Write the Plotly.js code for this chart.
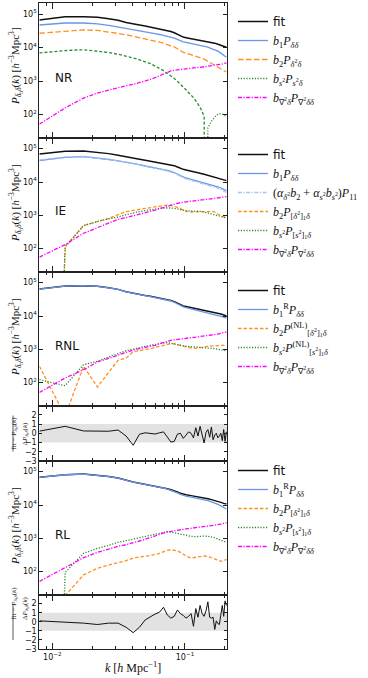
<!DOCTYPE html>
<html><head><meta charset="utf-8">
<script src="https://cdn.plot.ly/plotly-3.0.1.min.js"></script>
<style>html,body{margin:0;padding:0;background:#fff}#c{width:368px;height:678px}</style>
</head><body><div id="c"></div>
<script>
// k bins (h/Mpc)
const kMain = [0.008, 0.0125, 0.0172, 0.0219, 0.0266, 0.0313, 0.036, 0.0407, 0.0454, 0.0501, 0.0548, 0.0595, 0.0642, 0.0689, 0.0736, 0.0783, 0.083, 0.0877, 0.0924, 0.0971, 0.1018, 0.1112, 0.1206, 0.13, 0.1394, 0.1488, 0.1582, 0.1676, 0.177, 0.1864, 0.1958, 0.2052];
const kRes = [0.008, 0.0125, 0.0172, 0.0219, 0.0266, 0.0313, 0.036, 0.0407, 0.0454, 0.0501, 0.0548, 0.0595, 0.0642, 0.0689, 0.0736, 0.0783, 0.083, 0.0877, 0.0924, 0.0971, 0.1018, 0.1065, 0.1112, 0.1159, 0.1206, 0.1253, 0.13, 0.1347, 0.1394, 0.1441, 0.1488, 0.1535, 0.1582, 0.1629, 0.1676, 0.1723, 0.177, 0.1817, 0.1864, 0.1911, 0.1958, 0.2005, 0.2052];

// NR panel
const nrFit = [66000, 83000, 83000, 80000, 72000, 65000, 56000, 50000, 47000, 44000, 41000, 39000, 36500, 34000, 32000, 30000, 27500, 24500, 22000, 20500, 19700, 18600, 17600, 16600, 15800, 15300, 14500, 13500, 12600, 11700, 11000, 10200];
const nrB1 = [47000, 54000, 54000, 51000, 45500, 41000, 37000, 34000, 31500, 29500, 27500, 26000, 24500, 23000, 21600, 20400, 19000, 17400, 15800, 14800, 14300, 13300, 12300, 11500, 10700, 10200, 9300, 8500, 7800, 6800, 5900, 5100];
const nrB2 = [26700, 30500, 33500, 32400, 29500, 26300, 24000, 21700, 20000, 18600, 17200, 15800, 14500, 13500, 12600, 11200, 10500, 9100, 7900, 7200, 6800, 6100, 5500, 5100, 4500, 3900, 3300, 2950, 2600, 2350, 2100, 1860];
const nrBs2 = [6900, 8100, 8600, 7900, 7100, 6300, 5600, 4900, 4300, 3760, 3300, 2800, 2400, 2040, 1700, 1450, 1200, 980, 810, 660, 550, 380, 260, 166, 90, -40, -63, -85, -102, -107, -100, -85];
const nrBlap = [52, 158, 310, 437, 537, 645, 724, 794, 891, 990, 1120, 1260, 1450, 1660, 1860, 2000, 2090, 2160, 2240, 2290, 2340, 2430, 2510, 2570, 2660, 2750, 2820, 2920, 3020, 3160, 3310, 3470];

// IE panel
const ieFit = [69000, 83000, 85000, 79000, 71000, 63000, 56000, 51000, 48000, 45000, 42000, 40000, 38000, 36300, 34700, 33100, 30900, 28200, 25700, 24000, 22900, 21400, 19700, 18200, 17000, 15800, 14800, 14100, 13200, 12300, 11600, 11000];
const ieB1 = [43600, 55000, 57500, 52500, 47300, 43200, 39800, 36300, 33100, 30200, 28200, 26300, 25700, 24000, 22400, 20900, 19500, 17400, 15500, 14100, 13200, 12000, 11000, 10200, 9550, 9000, 8400, 7900, 7200, 6600, 6000, 5500];
const ieP11 = [46000, 56500, 58500, 53000, 47500, 43000, 39500, 36000, 32500, 29600, 27500, 25600, 24800, 23200, 21600, 20000, 18600, 16500, 14700, 13300, 12400, 11200, 10200, 9400, 8800, 8200, 7600, 7100, 6500, 5900, 5400, 4900];
const ieB2 = [0, 117, 490, 660, 810, 1050, 1290, 1410, 1510, 1620, 1700, 1780, 1860, 1950, 2040, 2000, 1900, 1740, 1580, 1480, 1320, 1260, 1260, 1230, 1260, 1290, 1320, 1260, 1100, 980, 890, 870];
const ieBs2 = [0, 112, 490, 660, 790, 890, 1050, 1200, 1290, 1380, 1480, 1550, 1620, 1660, 1700, 1660, 1620, 1550, 1480, 1380, 1380, 1350, 1350, 1320, 1260, 1170, 1100, 1020, 950, 890, 850, 830];
const ieBlap = [56, 132, 290, 437, 590, 760, 850, 955, 1070, 1170, 1290, 1430, 1580, 1740, 1860, 2040, 2210, 2290, 2400, 2480, 2570, 2690, 2790, 2880, 2950, 3020, 3090, 3160, 3310, 3430, 3550, 3630];

// RNL panel
const rnlFit = [64500, 79400, 81300, 77600, 70000, 63000, 53700, 47900, 44200, 41200, 38900, 36700, 35100, 33100, 30900, 29200, 26900, 24000, 21400, 20000, 19300, 18000, 16800, 16000, 15100, 14300, 13500, 12900, 12200, 11500, 10700, 10000];
const rnlB1 = [64000, 79000, 81000, 77000, 69500, 62500, 53300, 47500, 43800, 40800, 38400, 36100, 34400, 32300, 30000, 28200, 25800, 22800, 20200, 18700, 17900, 16500, 15200, 14300, 13400, 12500, 11700, 11000, 10400, 9800, 9200, 8600];
const rnlB2 = [310, 10, 310, 74, 203, 470, 545, 850, 910, 955, 1050, 1150, 1230, 1320, 1410, 1480, 1450, 1380, 1290, 1200, 1150, 1100, 1070, 1100, 1170, 1230, 1260, 1290, 1320, 1320, 1350, 1350];
const rnlBs2 = [123, 81, 347, 437, 590, 740, 910, 1020, 1150, 1230, 1320, 1410, 1480, 1550, 1580, 1550, 1450, 1380, 1320, 1260, 1230, 1200, 1170, 1150, 1150, 1120, 1100, 1050, 1000, 980, 955, 910];
const rnlBlap = [51, 138, 245, 417, 537, 676, 813, 955, 1050, 1120, 1200, 1320, 1480, 1620, 1780, 1860, 1930, 2000, 2040, 2090, 2140, 2240, 2320, 2400, 2480, 2570, 2660, 2750, 2880, 3020, 3160, 3310];
const rnlRes = [0.23, 0.75, 0.25, 0.22, 0.22, 0.35, -0.3, -1.3, -0.1, 0.05, 0.0, -0.08, 0.05, 0.15, -0.4, -0.95, -0.88, -0.1, 0.0, -0.55, -0.2, 0.15, 0.0, -0.5, 0.6, -0.3, 0.75, -0.2, -1.05, 0.1, 0.4, -0.43, 0.68, -0.7, -0.2, 0.0, -0.5, -0.3, 0.0, -0.8, 0.4, -0.88, 0.16];

// RL panel
const rlFit = [67600, 81300, 85100, 79400, 71600, 64600, 55000, 49000, 45200, 42200, 39800, 37200, 35500, 33100, 30900, 28800, 26900, 24500, 22400, 20900, 20200, 19100, 18000, 17800, 16600, 15500, 14500, 13800, 12900, 12000, 11200, 10700];
const rlB1 = [67000, 80800, 84600, 79000, 71200, 64200, 54600, 48600, 44800, 41800, 39300, 36700, 34800, 32300, 30000, 27700, 25600, 23100, 20900, 19300, 18500, 17300, 16200, 15800, 14600, 13500, 12400, 11500, 10400, 9400, 8500, 7600];
const rlB2 = [0, 19, 80, 126, 158, 186, 214, 257, 275, 288, 302, 324, 355, 398, 437, 457, 447, 417, 380, 331, 295, 257, 269, 288, 295, 288, 263, 240, 219, 204, 214, 234];
const rlBs2 = [0, 95, 355, 500, 617, 760, 850, 933, 1050, 1150, 1230, 1320, 1410, 1510, 1580, 1550, 1480, 1410, 1350, 1260, 1200, 1150, 1120, 1170, 1170, 1150, 1100, 1050, 955, 870, 813, 760];
const rlBlap = [51, 129, 263, 380, 479, 575, 646, 724, 832, 933, 1050, 1170, 1320, 1480, 1580, 1620, 1660, 1740, 1820, 1860, 1910, 2000, 2090, 2140, 2240, 2290, 2340, 2450, 2570, 2690, 2820, 2950];
const rlRes = [0.1, 0.0, -0.15, -0.3, -0.15, -0.15, -0.6, -1.2, -0.6, 0.2, 0.55, 0.85, 1.05, 1.6, 0.75, 0.4, 0.6, 1.3, 0.9, 0.7, 0.4, 0.6, 0.9, -0.5, 1.45, 0.5, 1.8, 0.9, 0.6, 1.2, 2.2, 0.5, 0.4, 0.5, -0.85, 0.1, -0.2, -0.3, 0.8, 1.8, 0.6, 2.3, 1.8];

// tick labels
const xTickVals = [0.01, 0.1];
const xTickText = ['10<sup>−2</sup>', '10<sup>−1</sup>'];
const xMinorVals = [0.008, 0.009, 0.02, 0.03, 0.04, 0.05, 0.06, 0.07, 0.08, 0.09, 0.2];
const yTickVals = [100, 1000, 10000, 100000];
const yTickText = ['10<sup>2</sup>', '10<sup>3</sup>', '10<sup>4</sup>', '10<sup>5</sup>'];
const rTickVals = [-3, -2, -1, 0, 1, 2];
const rTickText = ['−3', '−2', '−1', '0', '1', '2'];

// non-positive values are clipped far below the axis (as a log plot does)
const clip = a => a.map(v => v > 0 ? v : 1e-20);
const neg = a => a.map(v => -v > 0 ? -v : 1e-20);

const C = {fit:'#111111', b1:'#6a95e8', p11:'#a8c3f3', b2:'#ff9020', bs2:'#2b8c2b', lap:'#ff00ff'};
const D = {dot:'1.2px,1.6px', dash:'3.5px,2px', ldash:'5.5px,2.5px', sdash:'3px,2px', dd:'4px,1.5px,1.2px,1.5px'};

function tr(x, y, n, name, color, dash, width, legend, show, grp) {
  return {x: x, y: y, type: 'scatter', mode: 'lines',
    xaxis: n === 1 ? 'x' : 'x' + n, yaxis: n === 1 ? 'y' : 'y' + n,
    name: name, line: {color: color, dash: dash, width: width},
    legend: legend, showlegend: show, legendgroup: grp || legend, hoverinfo: 'skip'};
}
const FIT = '<span style="font-family:DejaVu Sans">fit</span>';
const lB1 = '<i>b</i><sub>1</sub><i>P</i><sub><i>δδ</i></sub>';
const lB1R = '<i>b</i><sub>1</sub><sup>R</sup><i>P</i><sub><i>δδ</i></sub>';
const lLap = '<i>b</i><sub>∇<sup>2</sup><i>δ</i></sub><i>P</i><sub>∇<sup>2</sup><i>δδ</i></sub>';

const data = [
  tr(kMain, nrFit, 1, FIT, C.fit, 'solid', 1.5, 'legend', true),
  tr(kMain, nrB1, 1, lB1, C.b1, 'solid', 1.3, 'legend', true),
  tr(kMain, nrB2, 1, '<i>b</i><sub>2</sub><i>P</i><sub><i>δ</i><sup>2</sup><i>δ</i></sub>', C.b2, D.ldash, 1.3, 'legend', true),
  tr(kMain, neg(nrBs2), 1, '<i>b</i><sub><i>s</i><sup>2</sup></sub><i>P</i><sub><i>s</i><sup>2</sup><i>δ</i></sub>', C.bs2, D.dot, 1.3, 'legend', true),
  tr(kMain, nrBlap, 1, lLap, C.lap, D.dd, 1.3, 'legend', true),
  tr(kMain, clip(nrBs2), 1, 'bs2+', C.bs2, D.sdash, 1.3, 'legend', false),

  tr(kMain, ieFit, 2, FIT, C.fit, 'solid', 1.5, 'legend2', true),
  tr(kMain, ieB1, 2, lB1, C.b1, 'solid', 1.3, 'legend2', true),
  tr(kMain, ieP11, 2, '(<i>α</i><sub><i>δ</i><sup>2</sup></sub><i>b</i><sub>2</sub> + <i>α</i><sub><i>s</i><sup>2</sup></sub><i>b</i><sub><i>s</i><sup>2</sup></sub>)<i>P</i><sub>11</sub>', C.p11, D.dd, 1.3, 'legend2', true),
  tr(kMain, clip(ieB2), 2, '<i>b</i><sub>2</sub><i>P</i><sub>[<i>δ</i><sup>2</sup>]<sub>1</sub><i>δ</i></sub>', C.b2, D.dash, 1.3, 'legend2', true),
  tr(kMain, clip(ieBs2), 2, '<i>b</i><sub><i>s</i><sup>2</sup></sub><i>P</i><sub>[<i>s</i><sup>2</sup>]<sub>1</sub><i>δ</i></sub>', C.bs2, D.dot, 1.3, 'legend2', true),
  tr(kMain, ieBlap, 2, lLap, C.lap, D.dd, 1.3, 'legend2', true),

  tr(kMain, rnlFit, 3, FIT, C.fit, 'solid', 1.5, 'legend3', true, 'g31'),
  tr(kMain, rnlB1, 3, lB1R, C.b1, 'solid', 1.3, 'legend3', true, 'g32'),
  tr(kMain, rnlB2, 3, '<i>b</i><sub>2</sub><i>P</i><sup>(NL)</sup><sub>[<i>δ</i><sup>2</sup>]<sub>1</sub><i>δ</i></sub>', C.b2, D.dash, 1.3, 'legend3', true, 'g33'),
  tr(kMain, rnlBs2, 3, '<i>b</i><sub><i>s</i><sup>2</sup></sub><i>P</i><sup>(NL)</sup><sub>[<i>s</i><sup>2</sup>]<sub>1</sub><i>δ</i></sub>', C.bs2, D.dot, 1.3, 'legend3', true, 'g34'),
  tr(kMain, rnlBlap, 3, lLap, C.lap, D.dd, 1.3, 'legend3', true, 'g35'),
  tr(kRes, rnlRes, 4, 'res', C.fit, 'solid', 1, 'legend3', false, 'g36'),

  tr(kMain, rlFit, 5, FIT, C.fit, 'solid', 1.5, 'legend4', true, 'g41'),
  tr(kMain, rlB1, 5, lB1R, C.b1, 'solid', 1.3, 'legend4', true, 'g42'),
  tr(kMain, clip(rlB2), 5, '<i>b</i><sub>2</sub><i>P</i><sub>[<i>δ</i><sup>2</sup>]<sub>1</sub><i>δ</i></sub>', C.b2, D.dash, 1.3, 'legend4', true, 'g43'),
  tr(kMain, clip(rlBs2), 5, '<i>b</i><sub><i>s</i><sup>2</sup></sub><i>P</i><sub>[<i>s</i><sup>2</sup>]<sub>1</sub><i>δ</i></sub>', C.bs2, D.dot, 1.3, 'legend4', true, 'g44'),
  tr(kMain, rlBlap, 5, lLap, C.lap, D.dd, 1.3, 'legend4', true, 'g45'),
  tr(kRes, rlRes, 6, 'res', C.fit, 'solid', 1, 'legend4', false, 'g46')
];

const W = 368, H = 678;
const px = v => v / W, py = v => 1 - v / H;
const xd = [px(39.3), px(227.3)];
const yDom = {1: [py(138), py(3.3)], 2: [py(272), py(138)], 3: [py(406), py(272)], 4: [py(461), py(406)], 5: [py(595), py(461)], 6: [py(649), py(595)]};
const LC = '#222';
const tickFont = {family: 'DejaVu Sans', size: 8, color: '#111'};

const layout = {width: W, height: H, margin: {l: 0, r: 0, t: 0, b: 0},
  paper_bgcolor: '#fff', plot_bgcolor: '#fff', showlegend: true, annotations: [], shapes: []};

for (let n = 1; n <= 6; n++) {
  const xa = n === 1 ? 'xaxis' : 'xaxis' + n;
  const ya = n === 1 ? 'yaxis' : 'yaxis' + n;
  const res = (n === 4 || n === 6);
  layout[xa] = {type: 'log', range: [-2.098, -0.681], domain: xd, anchor: n === 1 ? 'y' : 'y' + n,
    showline: true, linecolor: LC, linewidth: 1, mirror: 'ticks', ticks: 'inside', ticklen: 6, tickwidth: 1, tickcolor: LC,
    tickvals: xTickVals, ticktext: xTickText, showticklabels: n === 6, tickfont: {family: 'DejaVu Sans', size: 8, color: '#111'},
    showgrid: false, zeroline: false,
    minor: {tickvals: xMinorVals, ticks: 'inside', ticklen: 3, tickcolor: LC, tickwidth: 1, showgrid: false}};
  if (n !== 6) layout[xa].matches = 'x6';
  if (res) {
    layout[ya] = {domain: yDom[n], anchor: n === 1 ? 'x' : 'x' + n, range: [-3, 2.95],
      showline: true, linecolor: LC, linewidth: 1, mirror: 'ticks', ticks: 'inside', ticklen: 3, tickcolor: LC,
      tickvals: rTickVals, ticktext: rTickText, tickfont: tickFont, showgrid: false, zeroline: false};
    layout.shapes.push({type: 'rect', xref: 'x' + n + ' domain', x0: 0, x1: 1, yref: 'y' + n, y0: -1, y1: 1,
      fillcolor: '#e2e2e2', line: {width: 0}, layer: 'below'});
  } else {
    layout[ya] = {type: 'log', domain: yDom[n], anchor: n === 1 ? 'x' : 'x' + n, range: [1.3, 5.32],
      showline: true, linecolor: LC, linewidth: 1, mirror: 'ticks', ticks: 'inside', ticklen: 4, tickcolor: LC,
      tickvals: yTickVals, ticktext: yTickText, tickfont: tickFont, showgrid: false, zeroline: false};
  }
}

const legBase = {xanchor: 'left', yanchor: 'top', bgcolor: 'rgba(0,0,0,0)', borderwidth: 0,
  font: {family: 'Liberation Serif', size: 12, color: '#111'}, itemwidth: 30, traceorder: 'normal'};
layout.legend = Object.assign({}, legBase, {x: px(233), y: py(7), tracegroupgap: 0});
layout.legend2 = Object.assign({}, legBase, {x: px(233), y: py(140), tracegroupgap: 0});
layout.legend3 = Object.assign({}, legBase, {x: px(233), y: py(276), tracegroupgap: 3.5});
layout.legend4 = Object.assign({}, legBase, {x: px(233), y: py(456), tracegroupgap: 1});

// panel labels
const labs = [['NR', 78], ['IE', 211], ['RNL', 346], ['RL', 535]];
labs.forEach(l => layout.annotations.push({text: l[0], xref: 'paper', yref: 'paper', x: px(53), y: py(l[1]),
  xanchor: 'left', yanchor: 'middle', showarrow: false, font: {family: 'DejaVu Sans', size: 12, color: '#111'}}));

// y titles
const PT = '<i>P</i><sub><i>δ</i><sub>h</sub><i>δ</i></sub>(<i>k</i>)';
[66, 203, 337, 526].forEach(c => layout.annotations.push({text: PT + ' [<i>h</i><sup>−3</sup>Mpc<sup>3</sup>]',
  xref: 'paper', yref: 'paper', x: px(15), y: py(c), textangle: -90, showarrow: false,
  xanchor: 'center', yanchor: 'middle', font: {family: 'Liberation Serif', size: 11, color: '#111'}}));
[433.5, 622].forEach(c => {
  layout.annotations.push({text: 'fit − ' + PT, xref: 'paper', yref: 'paper', x: px(7.5), y: py(c), textangle: -90,
    showarrow: false, font: {family: 'Liberation Serif', size: 7, color: '#111'}});
  layout.annotations.push({text: 'Δ' + PT, xref: 'paper', yref: 'paper', x: px(18.5), y: py(c), textangle: -90,
    showarrow: false, font: {family: 'Liberation Serif', size: 7, color: '#111'}});
  layout.shapes.push({type: 'line', xref: 'paper', yref: 'paper', x0: px(13), x1: px(13), y0: py(c - 18), y1: py(c + 18),
    line: {color: '#111', width: 0.7}});
});
layout.annotations.push({text: '<i>k</i> [<i>h</i> Mpc<sup>−1</sup>]', xref: 'paper', yref: 'paper', x: px(133.3), y: py(667),
  showarrow: false, xanchor: 'center', yanchor: 'middle', font: {family: 'Liberation Serif', size: 12, color: '#111'}});

Plotly.newPlot('c', data, layout, {staticPlot: true, displayModeBar: false});
</script></body></html>
